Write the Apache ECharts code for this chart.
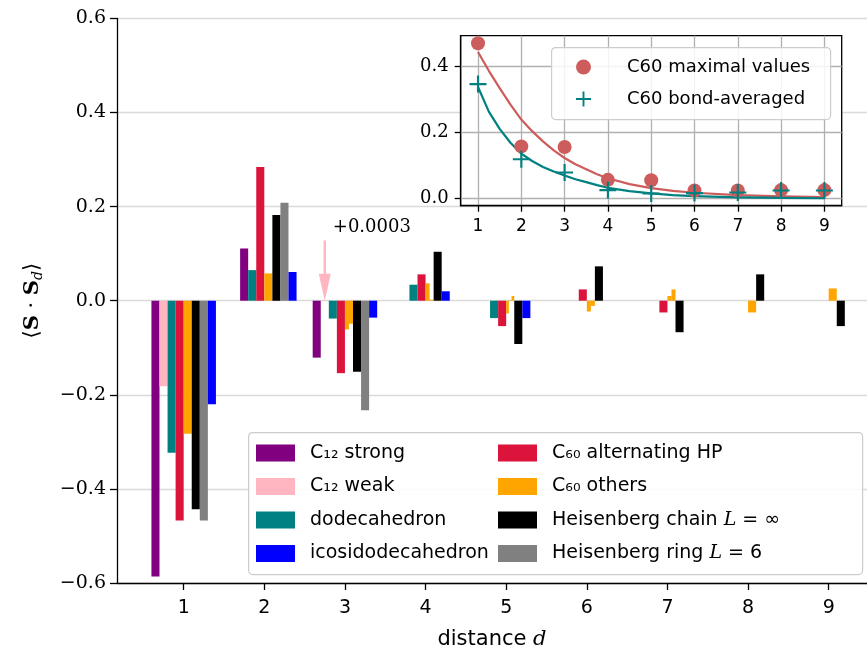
<!DOCTYPE html>
<html><head><meta charset="utf-8">
<script src="https://cdn.jsdelivr.net/npm/echarts@6/dist/echarts.min.js"></script>
<style>html,body{margin:0;padding:0;background:#fff}#c{width:867px;height:655px}</style>
</head><body><div id="c"></div>
<script>
// ---------- data ----------
const distances = [1, 2, 3, 4, 5, 6, 7, 8, 9];
const c12Strong = [-0.586, 0.111, -0.121];
const c12Weak = [-0.182, null, 0.0003];
const dodecahedron = [-0.323, 0.065, -0.038, 0.034, -0.037];
const icosidodecahedron = [-0.220, 0.061, -0.036, 0.020, -0.037];
const c60AltHP = [-0.467, 0.284, -0.154, 0.056, -0.054, 0.024, -0.025];
const c60Others = [[-0.283], [0.058], [-0.061, -0.049], [0.037, 0.002], [-0.027, 0.001, 0.010], [-0.023, -0.011], [0.010, 0.024], [-0.025], [0.026]];
const heisChain = [-0.443, 0.182, -0.151, 0.104, -0.092, 0.073, -0.067, 0.056, -0.054];
const heisRing = [-0.467, 0.208, -0.233];

// inset
const insetD = [1, 2, 3, 4, 5, 6, 7, 8, 9];
const c60Max = [0.468, 0.157, 0.155, 0.056, 0.055, 0.024, 0.024, 0.025, 0.025];
const c60Bond = [0.345, 0.118, 0.078, 0.025, 0.015, 0.016, 0.018, 0.024, 0.024];
const fitD = [1, 1.25, 1.5, 1.75, 2, 2.25, 2.5, 2.75, 3, 3.25, 3.5, 3.75, 4, 4.5, 5, 5.5, 6, 7, 8, 9];
const fitMax = [0.442, 0.385, 0.333, 0.283, 0.238, 0.203, 0.172, 0.145, 0.122, 0.103, 0.088, 0.073, 0.061, 0.043, 0.031, 0.023, 0.017, 0.010, 0.006, 0.004];
const fitBond = [0.336, 0.262, 0.21, 0.168, 0.135, 0.113, 0.095, 0.081, 0.069, 0.058, 0.049, 0.040, 0.032, 0.022, 0.015, 0.010, 0.007, 0.003, 0.0015, 0.0005];
const insetYTicks = [0, 0.2, 0.4];

// ---------- layout helpers ----------
const BAR_W = 0.1;
const NAMES = {
  s: 'C₁₂ strong', w: 'C₁₂ weak', dod: 'dodecahedron', ico: 'icosidodecahedron',
  alt: 'C₆₀ alternating HP', oth: 'C₆₀ others', chain: 'Heisenberg chain L = ∞', ring: 'Heisenberg ring L = 6'
};
function slotLeft(key, d) {
  switch (key) {
    case 's': return d === 2 ? -0.3 : -0.4;
    case 'w': return -0.3;
    case 'dod': return -0.2;
    case 'alt': return -0.1;
    case 'oth': return 0;
    case 'chain': return 0.1;
    case 'ring': return 0.2;
    case 'ico': return d <= 3 ? 0.3 : 0.2;
  }
}
function barData(key, arr) {
  const out = [];
  arr.forEach((v, i) => {
    if (v === null || v === undefined) return;
    const d = distances[i];
    if (Array.isArray(v)) {
      const n = v.length, w = BAR_W / n;
      v.forEach((vv, k) => out.push([d, vv, d + slotLeft(key, d) + k * w, w]));
    } else {
      out.push([d, v, d + slotLeft(key, d), BAR_W]);
    }
  });
  return out;
}
function renderBar(params, api) {
  const v = api.value(1), x0 = api.value(2), w = api.value(3);
  const p1 = api.coord([x0, v]);
  const p2 = api.coord([x0 + w, 0]);
  return {
    type: 'rect',
    shape: { x: p1[0], y: Math.min(p1[1], p2[1]), width: p2[0] - p1[0], height: Math.abs(p2[1] - p1[1]) },
    style: { fill: api.visual('color') }
  };
}
function barSeries(key, arr, color) {
  return {
    type: 'custom', name: NAMES[key], xAxisIndex: 0, yAxisIndex: 0,
    itemStyle: { color: color }, renderItem: renderBar,
    encode: { x: 2, y: 1 }, data: barData(key, arr), z: 2, silent: true
  };
}

const SERIF = '"DejaVu Serif", "Liberation Serif", serif';
const SANS = '"DejaVu Sans", "Liberation Sans", sans-serif';
const plusPath = 'path://M7,0 L9,0 L9,7 L16,7 L16,9 L9,9 L9,16 L7,16 L7,9 L0,9 L0,7 L7,7 Z';
const fmtNum = v => (v < -1e-9 ? '−' : '') + Math.abs(v).toFixed(1);
const richLegend = { it: { fontFamily: SERIF, fontStyle: 'italic', fontSize: 19, lineHeight: 20 } };
const legendFormatter = n => n.replace(' L = ', ' {it|L} = ');

const chart = echarts.init(document.getElementById('c'), null, { renderer: 'canvas' });

const option = {
  animation: false,
  backgroundColor: '#fff',
  grid: [
    { left: 117, top: 18.4, width: 750, height: 568.2, show: false },
    { left: 460.7, top: 35.7, width: 381, height: 170, show: true, backgroundColor: '#fff', borderColor: '#000', borderWidth: 1.3, z: 1 }
  ],
  xAxis: [
    {
      type: 'value', gridIndex: 0, min: 0.173, max: 9.475,
      name: 'distance {it|d}', nameLocation: 'middle', nameGap: 46,
      nameTextStyle: { fontFamily: SANS, fontSize: 21, color: '#000', rich: { it: { fontFamily: SERIF, fontStyle: 'italic', fontSize: 21 } } },
      axisLine: { show: true, onZero: false, lineStyle: { color: '#000', width: 1.3 } },
      axisTick: { show: true, length: 7, customValues: distances, lineStyle: { color: '#000', width: 1.3 } },
      axisLabel: { customValues: distances, fontFamily: SANS, fontSize: 19, color: '#000', margin: 16 },
      splitLine: { show: false }
    },
    {
      type: 'value', gridIndex: 1, min: 0.6, max: 9.4, z: 3,
      axisLine: { show: true, onZero: false, lineStyle: { color: '#000', width: 1.3 } },
      axisTick: { show: true, length: 6, customValues: insetD, lineStyle: { color: '#000', width: 1.3 } },
      axisLabel: { customValues: insetD, fontFamily: SANS, fontSize: 17, color: '#000', margin: 12 },
      splitLine: { show: true, lineStyle: { color: '#b0b0b0', width: 1.3 } }
    }
  ],
  yAxis: [
    {
      type: 'value', gridIndex: 0, min: -0.6, max: 0.6, interval: 0.2,
      name: '⟨{b|S} · {b|S}{sub|d}⟩', nameLocation: 'middle', nameGap: 72, nameRotate: 90,
      nameTextStyle: {
        fontFamily: SERIF, fontSize: 21, color: '#000',
        rich: {
          b: { fontFamily: SERIF, fontWeight: 'bold', fontSize: 21 },
          sub: { fontFamily: SERIF, fontStyle: 'italic', fontSize: 14, padding: [11, 0, 0, 0] }
        }
      },
      axisLine: { show: true, lineStyle: { color: '#000', width: 1.3 } },
      axisTick: { show: true, length: 7, lineStyle: { color: '#000', width: 1.3 } },
      axisLabel: { fontFamily: SERIF, fontSize: 19, color: '#000', margin: 11, formatter: fmtNum },
      splitLine: { show: true, lineStyle: { color: '#dadada', width: 1.3 } }
    },
    {
      type: 'value', gridIndex: 1, min: -0.022, max: 0.491, z: 3,
      axisLine: { show: true, lineStyle: { color: '#000', width: 1.3 } },
      axisTick: { show: true, length: 6, customValues: insetYTicks, lineStyle: { color: '#000', width: 1.3 } },
      axisLabel: { customValues: insetYTicks, fontFamily: SERIF, fontSize: 18, color: '#000', margin: 12, formatter: fmtNum },
      splitLine: { show: true, lineStyle: { color: '#b0b0b0', width: 1.3 } }
    }
  ],
  legend: [
    {
      data: [NAMES.s, NAMES.w, NAMES.dod, NAMES.ico].map(n => ({ name: n, icon: 'rect' })),
      orient: 'vertical', left: 256, top: 443, padding: 0, itemWidth: 39, itemHeight: 17, itemGap: 13.5,
      selectedMode: false,
      textStyle: { fontFamily: SANS, fontSize: 19, lineHeight: 20, color: '#000', padding: [0, 0, 0, 10], rich: richLegend },
      formatter: legendFormatter
    },
    {
      data: [NAMES.alt, NAMES.oth, NAMES.chain, NAMES.ring].map(n => ({ name: n, icon: 'rect' })),
      orient: 'vertical', left: 498, top: 443, padding: 0, itemWidth: 39, itemHeight: 17, itemGap: 13.5,
      selectedMode: false,
      textStyle: { fontFamily: SANS, fontSize: 19, lineHeight: 20, color: '#000', padding: [0, 0, 0, 10], rich: richLegend },
      formatter: legendFormatter
    },
    {
      data: [{ name: 'C60 maximal values', icon: 'circle' }, { name: 'C60 bond-averaged', icon: plusPath }],
      orient: 'vertical', left: 576, top: 57, padding: 0, itemWidth: 15, itemHeight: 15, itemGap: 12,
      selectedMode: false, z: 12,
      textStyle: { fontFamily: SANS, fontSize: 18, lineHeight: 20, color: '#000', padding: [0, 0, 0, 31] }
    }
  ],
  graphic: [
    { type: 'rect', left: 248, top: 432, shape: { width: 614, height: 142, r: 4 }, style: { fill: 'rgba(255,255,255,0.85)', stroke: '#cccccc', lineWidth: 1.2 }, z: 3 },
    { type: 'rect', left: 551, top: 47, shape: { width: 279, height: 72, r: 4 }, style: { fill: 'rgba(255,255,255,0.85)', stroke: '#cccccc', lineWidth: 1.2 }, z: 10 }
  ],
  series: [
    barSeries('s', c12Strong, '#800080'),
    barSeries('w', c12Weak, '#ffb6c1'),
    barSeries('dod', dodecahedron, '#008080'),
    barSeries('alt', c60AltHP, '#dc143c'),
    barSeries('oth', c60Others, '#ffa500'),
    barSeries('chain', heisChain, '#000000'),
    barSeries('ring', heisRing, '#808080'),
    barSeries('ico', icosidodecahedron, '#0000ff'),
    {
      type: 'custom', name: 'annotation', xAxisIndex: 0, yAxisIndex: 0, silent: true, z: 6,
      data: [[2.75, 0.0003]],
      renderItem: function (params, api) {
        const tip = api.coord([api.value(0), 0]);
        const top = api.coord([api.value(0), 0.128]);
        const headLen = 27, headW = 6, shaftW = 1.2;
        const hy = tip[1] - headLen;
        const txt = api.coord([2.85, 0.155]);
        return {
          type: 'group', children: [
            { type: 'polygon', shape: { points: [[tip[0] - shaftW, top[1]], [tip[0] + shaftW, top[1]], [tip[0] + shaftW, hy], [tip[0] + headW, hy], [tip[0], tip[1]], [tip[0] - headW, hy], [tip[0] - shaftW, hy]] }, style: { fill: '#ffb6c1' } },
            { type: 'text', x: txt[0], y: txt[1], style: { text: '+0.0003', fontFamily: SERIF, fontSize: 18, fill: '#000', align: 'left', verticalAlign: 'middle' } }
          ]
        };
      }
    },
    {
      type: 'line', name: 'fit max', xAxisIndex: 1, yAxisIndex: 1, z: 11, silent: true,
      data: fitD.map((d, i) => [d, fitMax[i]]), showSymbol: false, smooth: false,
      lineStyle: { color: '#cd5c5c', width: 2.2, join: 'round' }
    },
    {
      type: 'line', name: 'fit bond', xAxisIndex: 1, yAxisIndex: 1, z: 11, silent: true,
      data: fitD.map((d, i) => [d, fitBond[i]]), showSymbol: false, smooth: false,
      lineStyle: { color: '#008080', width: 2.2, join: 'round' }
    },
    {
      type: 'scatter', name: 'C60 maximal values', xAxisIndex: 1, yAxisIndex: 1, z: 12, silent: true,
      data: insetD.map((d, i) => [d, c60Max[i]]), symbol: 'circle', symbolSize: 14,
      itemStyle: { color: '#cd5c5c', opacity: 1 }
    },
    {
      type: 'scatter', name: 'C60 bond-averaged', xAxisIndex: 1, yAxisIndex: 1, z: 13, silent: true,
      data: insetD.map((d, i) => [d, c60Bond[i]]), symbol: plusPath, symbolSize: 17,
      itemStyle: { color: '#008080', opacity: 1 }
    }
  ]
};
chart.setOption(option);
</script>
</body></html>
